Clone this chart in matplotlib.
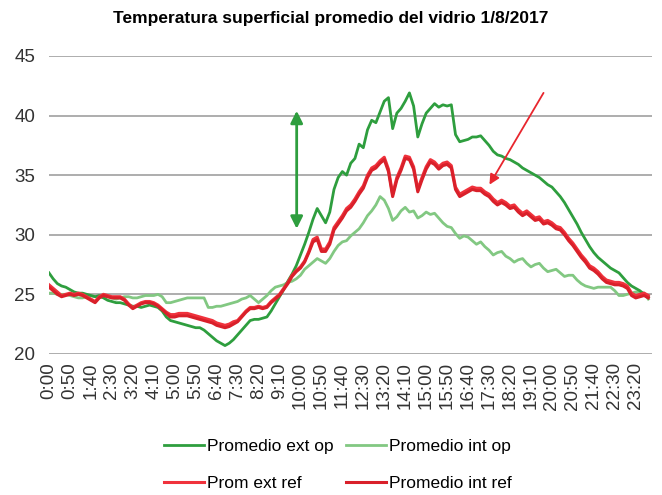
import numpy as np
import matplotlib
matplotlib.use('Agg')
import matplotlib.pyplot as plt

# one reading every 10 minutes, 0:00 .. 23:50 (minutes of the day)
minutos = np.arange(0, 1440, 10)

ext_op = [26.8, 26.3, 25.9, 25.7, 25.6, 25.4, 25.2, 25.1, 25.1, 25.0,
          24.9, 24.8, 24.9, 24.7, 24.5, 24.4, 24.3, 24.3, 24.2, 24.1,
          24.0, 24.0, 23.9, 24.0, 24.1, 24.0, 23.9, 23.6, 23.1, 22.8,
          22.7, 22.6, 22.5, 22.4, 22.3, 22.2, 22.2, 22.0, 21.7, 21.4,
          21.1, 20.9, 20.7, 20.9, 21.2, 21.6, 22.0, 22.4, 22.8, 22.9,
          22.9, 23.0, 23.1, 23.6, 24.2, 24.8, 25.4, 26.1, 26.7, 27.4,
          28.3, 29.2, 30.2, 31.3, 32.2, 31.6, 31.0, 31.9, 33.8, 34.8,
          35.3, 35.0, 36.0, 36.4, 37.6, 37.3, 38.8, 39.6, 39.4, 40.3,
          41.2, 41.5, 38.9, 40.2, 40.6, 41.2, 41.9, 40.8, 38.2, 39.3,
          40.2, 40.6, 41.0, 40.7, 40.9, 40.8, 40.9, 38.4, 37.8, 37.9,
          38.0, 38.2, 38.2, 38.3, 37.9, 37.5, 37.0, 36.7, 36.6, 36.4,
          36.3, 36.1, 35.9, 35.6, 35.4, 35.2, 35.0, 34.8, 34.5, 34.2,
          34.0, 33.6, 33.2, 32.7, 32.1, 31.5, 30.9, 30.2, 29.6, 29.0,
          28.5, 28.1, 27.8, 27.5, 27.2, 27.0, 26.8, 26.4, 26.0, 25.7,
          25.5, 25.3, 25.0, 24.8]

int_op = [25.1, 25.1, 25.0, 25.0, 25.0, 24.9, 24.8, 24.7, 24.7, 24.8,
          24.9, 24.8, 24.7, 24.8, 24.8, 24.7, 24.6, 24.7, 24.8, 24.8,
          24.7, 24.7, 24.8, 24.9, 24.9, 24.9, 25.0, 24.8, 24.3, 24.3,
          24.4, 24.5, 24.6, 24.7, 24.7, 24.7, 24.7, 24.7, 23.9, 23.9,
          24.0, 24.0, 24.1, 24.2, 24.3, 24.4, 24.6, 24.7, 24.9, 24.6,
          24.3, 24.6, 24.9, 25.3, 25.6, 25.7, 25.8, 26.0, 26.1, 26.3,
          26.6, 27.1, 27.4, 27.7, 28.0, 27.8, 27.6, 28.0, 28.6, 29.1,
          29.4, 29.5, 29.9, 30.2, 30.5, 31.0, 31.6, 32.0, 32.5, 33.2,
          32.9, 32.2, 31.2, 31.5, 32.0, 32.3, 31.9, 32.0, 31.4, 31.6,
          31.9, 31.7, 31.8, 31.4, 31.0, 30.7, 30.6, 30.1, 29.7, 29.9,
          29.8, 29.5, 29.2, 29.4, 29.0, 28.7, 28.3, 28.5, 28.6, 28.2,
          28.0, 27.7, 27.9, 28.0, 27.6, 27.3, 27.5, 27.6, 27.2, 26.9,
          27.0, 27.1, 26.8, 26.5, 26.6, 26.6, 26.2, 25.9, 25.7, 25.6,
          25.5, 25.6, 25.6, 25.6, 25.6, 25.3, 24.9, 24.9, 25.0, 25.1,
          25.2, 25.2, 25.1, 24.6]

ext_ref = [25.8, 25.5, 25.2, 24.9, 25.0, 25.1, 25.0, 25.1, 25.0, 24.8,
           24.6, 24.4, 24.8, 25.0, 24.9, 24.8, 24.8, 24.8, 24.6, 24.2,
           23.9, 24.1, 24.3, 24.4, 24.4, 24.3, 24.1, 23.8, 23.5, 23.3,
           23.3, 23.4, 23.4, 23.4, 23.3, 23.2, 23.1, 23.0, 22.9, 22.8,
           22.6, 22.5, 22.4, 22.5, 22.7, 22.8, 23.2, 23.6, 23.9, 23.9,
           24.0, 23.9, 24.0, 24.4, 24.7, 25.0, 25.5, 26.0, 26.6, 27.0,
           27.3, 27.8, 28.6, 29.6, 29.8, 28.8, 28.8, 29.4, 30.6, 31.1,
           31.6, 32.2, 32.5, 33.0, 33.6, 34.1, 35.0, 35.6, 35.8, 36.2,
           36.5, 35.5, 33.4, 34.8, 35.6, 36.6, 36.5, 35.7, 33.8, 34.8,
           35.7, 36.3, 36.1, 35.7, 36.0, 36.1, 35.8, 34.0, 33.4, 33.6,
           33.8, 34.0, 33.9, 33.9, 33.6, 33.4, 33.0, 32.7, 32.9, 32.7,
           32.4, 32.5, 32.1, 31.8, 32.0, 31.7, 31.4, 31.5, 31.1, 31.2,
           31.0, 30.7, 30.6, 30.2, 29.7, 29.3, 28.8, 28.3, 27.9, 27.4,
           27.2, 26.9, 26.5, 26.2, 26.1, 26.0, 26.0, 25.9, 25.7, 25.1,
           24.9, 25.0, 25.1, 24.9]

int_ref = [25.6, 25.3, 25.0, 24.8, 24.9, 25.0, 24.9, 25.0, 24.9, 24.7,
           24.5, 24.3, 24.7, 24.9, 24.8, 24.7, 24.7, 24.7, 24.5, 24.1,
           23.8, 24.0, 24.2, 24.3, 24.3, 24.2, 24.0, 23.7, 23.4, 23.1,
           23.1, 23.2, 23.2, 23.2, 23.1, 23.0, 22.9, 22.8, 22.7, 22.6,
           22.4, 22.3, 22.2, 22.3, 22.5, 22.7, 23.1, 23.5, 23.8, 23.8,
           23.9, 23.8, 23.9, 24.3, 24.6, 24.9, 25.4, 25.9, 26.5, 26.9,
           27.2, 27.7, 28.5, 29.4, 29.6, 28.6, 28.6, 29.2, 30.4, 30.9,
           31.4, 32.0, 32.3, 32.8, 33.4, 33.9, 34.8, 35.4, 35.6, 36.0,
           36.3, 35.3, 33.2, 34.6, 35.4, 36.4, 36.3, 35.5, 33.6, 34.6,
           35.5, 36.1, 35.9, 35.5, 35.8, 35.9, 35.6, 33.8, 33.2, 33.4,
           33.6, 33.8, 33.7, 33.7, 33.4, 33.2, 32.8, 32.5, 32.7, 32.5,
           32.2, 32.3, 31.9, 31.6, 31.8, 31.5, 31.2, 31.3, 30.9, 31.0,
           30.8, 30.5, 30.4, 30.0, 29.5, 29.1, 28.6, 28.1, 27.7, 27.2,
           27.0, 26.7, 26.3, 26.0, 25.9, 25.8, 25.8, 25.7, 25.5, 24.9,
           24.7, 24.8, 24.9, 24.7]

# tick every 50 minutes
tick_pos = list(range(0, 1401, 50))
tick_labels = ['0:00', '0:50', '1:40', '2:30', '3:20', '4:10', '5:00', '5:50',
               '6:40', '7:30', '8:20', '9:10', '10:00', '10:50', '11:40',
               '12:30', '13:20', '14:10', '15:00', '15:50', '16:40', '17:30',
               '18:20', '19:10', '20:00', '20:50', '21:40', '22:30', '23:20']

plt.rcParams['font.family'] = ['Liberation Sans', 'DejaVu Sans']

fig = plt.figure(figsize=(6.62, 4.95), dpi=100)
ax = fig.add_axes([0.074, 0.285, 0.911, 0.602])

l2, = ax.plot(minutos, int_op, color='#82C882', lw=2.0, label='Promedio int op')
l1, = ax.plot(minutos, ext_op, color='#2E9E3E', lw=2.0, label='Promedio ext op')
l3, = ax.plot(minutos, ext_ref, color='#F0323C', lw=2.2, label='Prom ext ref')
l4, = ax.plot(minutos, int_ref, color='#D9202A', lw=2.2, label='Promedio int ref')

ax.set_xlim(0, 1439)
ax.set_ylim(20, 45)
ax.set_yticks([20, 25, 30, 35, 40, 45])
ax.set_xticks(tick_pos)
ax.set_xticklabels(tick_labels, rotation=90)
ax.tick_params(axis='y', length=0, labelsize=13.5, pad=10, colors='#333333')
ax.tick_params(axis='x', length=0, labelsize=13.5, pad=6, colors='#333333')
ax.grid(axis='y', color='#A0A0A0', lw=1.2)
ax.set_axisbelow(True)
for s in ax.spines.values():
    s.set_visible(False)

# arrows
ax.annotate('', xy=(591, 40.4), xytext=(591, 30.5),
            arrowprops=dict(arrowstyle='<|-|>', color='#2E9E3E', lw=2,
                            mutation_scale=18, shrinkA=0, shrinkB=0))
ax.annotate('', xy=(1051, 34.2), xytext=(1180, 41.9),
            arrowprops=dict(arrowstyle='-|>', color='#E8262E', lw=1.3,
                            mutation_scale=15, shrinkA=0, shrinkB=0))

fig.text(0.5, 1 - 18 / 495, 'Temperatura superficial promedio del vidrio 1/8/2017',
         ha='center', va='center', fontsize=12.5, fontweight='bold')

leg = fig.legend([l1, l3, l2, l4],
                 ['Promedio ext op', 'Prom ext ref', 'Promedio int op', 'Promedio int ref'],
                 ncol=2, loc='center', bbox_to_anchor=(338 / 662, 1 - 465 / 495),
                 frameon=False, prop={'size': 12.5},
                 handlelength=2.3, handletextpad=0.17, columnspacing=0.75, labelspacing=1.3)

fig.savefig('out.png', dpi=100)
